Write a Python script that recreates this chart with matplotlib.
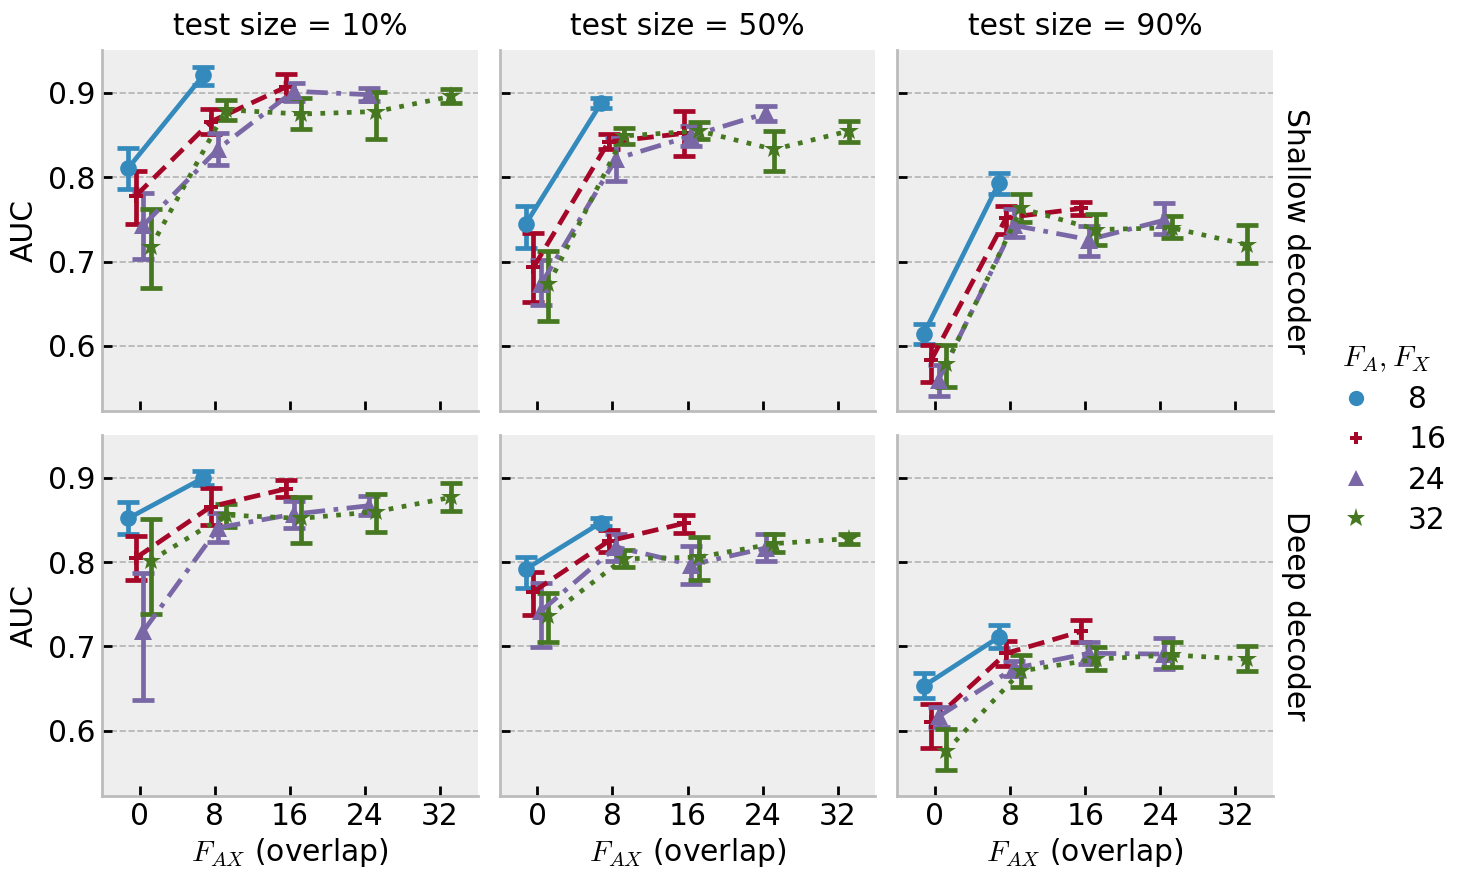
import matplotlib
matplotlib.use("Agg")
import matplotlib.pyplot as plt
from matplotlib.lines import Line2D
import numpy as np

# ---------------- data ----------------
overlap_labels = ["0", "8", "16", "24", "32"]
series_names = ["8", "16", "24", "32"]
col_titles = ["test size = 10%", "test size = 50%", "test size = 90%"]
row_titles = ["Shallow decoder", "Deep decoder"]

# Shallow decoder
sh10_mean = {"8": [0.811, 0.921], "16": [0.778, 0.866, 0.907], "24": [0.743, 0.834, 0.902, 0.898], "32": [0.717, 0.880, 0.875, 0.878, 0.896]}
sh10_lo = {"8": [0.786, 0.909], "16": [0.744, 0.851, 0.892], "24": [0.703, 0.814, 0.890, 0.890], "32": [0.669, 0.868, 0.857, 0.845, 0.888]}
sh10_hi = {"8": [0.835, 0.931], "16": [0.808, 0.881, 0.922], "24": [0.781, 0.853, 0.912, 0.906], "32": [0.762, 0.892, 0.894, 0.901, 0.905]}

sh50_mean = {"8": [0.745, 0.888], "16": [0.693, 0.842, 0.852], "24": [0.673, 0.822, 0.849, 0.876], "32": [0.673, 0.849, 0.855, 0.833, 0.855]}
sh50_lo = {"8": [0.716, 0.882], "16": [0.652, 0.833, 0.825], "24": [0.648, 0.796, 0.837, 0.867], "32": [0.630, 0.839, 0.845, 0.807, 0.842]}
sh50_hi = {"8": [0.766, 0.894], "16": [0.734, 0.851, 0.879], "24": [0.702, 0.847, 0.861, 0.885], "32": [0.712, 0.859, 0.865, 0.855, 0.867]}

sh90_mean = {"8": [0.614, 0.793], "16": [0.583, 0.752, 0.763], "24": [0.560, 0.743, 0.726, 0.749], "32": [0.578, 0.763, 0.738, 0.740, 0.720]}
sh90_lo = {"8": [0.602, 0.780], "16": [0.557, 0.733, 0.755], "24": [0.540, 0.729, 0.707, 0.733], "32": [0.551, 0.747, 0.720, 0.728, 0.698]}
sh90_hi = {"8": [0.626, 0.805], "16": [0.601, 0.766, 0.771], "24": [0.577, 0.762, 0.742, 0.769], "32": [0.601, 0.780, 0.756, 0.754, 0.743]}

# Deep decoder
dp10_mean = {"8": [0.852, 0.900], "16": [0.805, 0.866, 0.887], "24": [0.718, 0.841, 0.857, 0.867], "32": [0.802, 0.856, 0.852, 0.860, 0.877]}
dp10_lo = {"8": [0.834, 0.892], "16": [0.779, 0.844, 0.877], "24": [0.637, 0.824, 0.840, 0.856], "32": [0.739, 0.842, 0.823, 0.836, 0.861]}
dp10_hi = {"8": [0.871, 0.908], "16": [0.831, 0.888, 0.897], "24": [0.787, 0.858, 0.873, 0.878], "32": [0.851, 0.869, 0.877, 0.881, 0.894]}

dp50_mean = {"8": [0.792, 0.847], "16": [0.765, 0.825, 0.846], "24": [0.742, 0.818, 0.797, 0.817], "32": [0.736, 0.804, 0.806, 0.822, 0.828]}
dp50_lo = {"8": [0.769, 0.843], "16": [0.737, 0.812, 0.835], "24": [0.699, 0.801, 0.774, 0.802], "32": [0.705, 0.794, 0.779, 0.812, 0.821]}
dp50_hi = {"8": [0.806, 0.852], "16": [0.788, 0.838, 0.856], "24": [0.775, 0.834, 0.819, 0.833], "32": [0.763, 0.815, 0.830, 0.833, 0.834]}

dp90_mean = {"8": [0.653, 0.711], "16": [0.610, 0.692, 0.718], "24": [0.617, 0.674, 0.692, 0.691], "32": [0.576, 0.671, 0.685, 0.690, 0.685]}
dp90_lo = {"8": [0.639, 0.698], "16": [0.579, 0.677, 0.705], "24": [0.604, 0.665, 0.679, 0.673], "32": [0.553, 0.652, 0.672, 0.676, 0.671]}
dp90_hi = {"8": [0.668, 0.725], "16": [0.632, 0.707, 0.731], "24": [0.628, 0.683, 0.705, 0.710], "32": [0.602, 0.690, 0.699, 0.705, 0.700]}

means = [[sh10_mean, sh50_mean, sh90_mean], [dp10_mean, dp50_mean, dp90_mean]]
lows = [[sh10_lo, sh50_lo, sh90_lo], [dp10_lo, dp50_lo, dp90_lo]]
highs = [[sh10_hi, sh50_hi, sh90_hi], [dp10_hi, dp50_hi, dp90_hi]]

# ---------------- style ----------------
colors = {"8": "#348ABD", "16": "#A60628", "24": "#7A68A6", "32": "#467821"}
markers = {"8": "o", "16": "P", "24": "^", "32": "*"}
msizes = {"8": 6.0, "16": 5.0, "24": 6.5, "32": 7.5}
lstyles = {"8": "-", "16": (0, (3.5, 1.8)), "24": (0, (4.5, 1.8, 1, 1.8)), "32": (0, (1, 1.8))}
dodge = {"8": -0.15, "16": -0.05, "24": 0.05, "32": 0.15}

FS = 10.7
plt.rcParams.update({
    "font.family": "DejaVu Sans",
    "font.size": FS,
    "mathtext.fontset": "cm",
})

W, H, DPI = 1467, 883, 200
fig, axes = plt.subplots(2, 3, figsize=(W / DPI, H / DPI), dpi=DPI, sharex=True, sharey=True)
fig.subplots_adjust(left=0.0695, right=0.8678, top=0.9434, bottom=0.0985, wspace=0.0585, hspace=0.066)

xpos = np.arange(len(overlap_labels))
LW = 1.7

for r in range(2):
    for c in range(3):
        ax = axes[r, c]
        ax.set_facecolor("#eeeeee")
        ax.set_axisbelow(True)
        ax.yaxis.grid(True, color="#b2b2b2", linestyle="--", linewidth=0.6)
        ax.xaxis.grid(False)
        for s in ["top", "right"]:
            ax.spines[s].set_visible(False)
        for s in ["left", "bottom"]:
            ax.spines[s].set_color("#bcbcbc")
            ax.spines[s].set_linewidth(1.0)
        for name in series_names:
            m = np.array(means[r][c][name])
            lo = np.array(lows[r][c][name])
            hi = np.array(highs[r][c][name])
            x = xpos[:len(m)] + dodge[name]
            ax.errorbar(x, m, yerr=[m - lo, hi - m], fmt="none", ecolor=colors[name],
                        elinewidth=LW, capsize=3.8, capthick=LW, zorder=3)
            ax.plot(x, m, color=colors[name], linestyle=lstyles[name], linewidth=LW,
                    marker=markers[name], markersize=msizes[name], markeredgewidth=0,
                    zorder=4)
        ax.set_xlim(-0.5, 4.5)
        ax.set_ylim(0.5226, 0.951)
        ax.set_xticks(xpos)
        ax.set_xticklabels(overlap_labels)
        ax.set_yticks([0.6, 0.7, 0.8, 0.9])
        ax.tick_params(direction="in", length=3.6, width=1.0, color="black",
                       labelsize=FS, pad=2.3)
        if r == 0:
            ax.set_title(col_titles[c], fontsize=FS, pad=5.5)
            ax.tick_params(labelbottom=False)
        else:
            ax.set_xlabel("$F_{AX}$ (overlap)", fontsize=FS, labelpad=1.5)
        if c == 0:
            ax.set_ylabel("AUC", fontsize=FS, labelpad=3.5)
        else:
            ax.tick_params(labelleft=False)
        if c == 2:
            ax.text(1.02, 0.5, row_titles[r], transform=ax.transAxes, rotation=270,
                    va="center", ha="left", fontsize=FS)

handles = [Line2D([], [], color=colors[n], marker=markers[n], linestyle="none",
                  markersize=msizes[n] - 0.5, markeredgewidth=0) for n in series_names]
fig.legend(handles, series_names, title="$F_A, F_X$", loc="center left",
           bbox_to_anchor=(0.886, 0.503), frameon=False, fontsize=FS, title_fontsize=FS,
           handletextpad=0.75, labelspacing=0.38, handlelength=2.0)

fig.savefig("out.png", dpi=DPI, facecolor="white")
